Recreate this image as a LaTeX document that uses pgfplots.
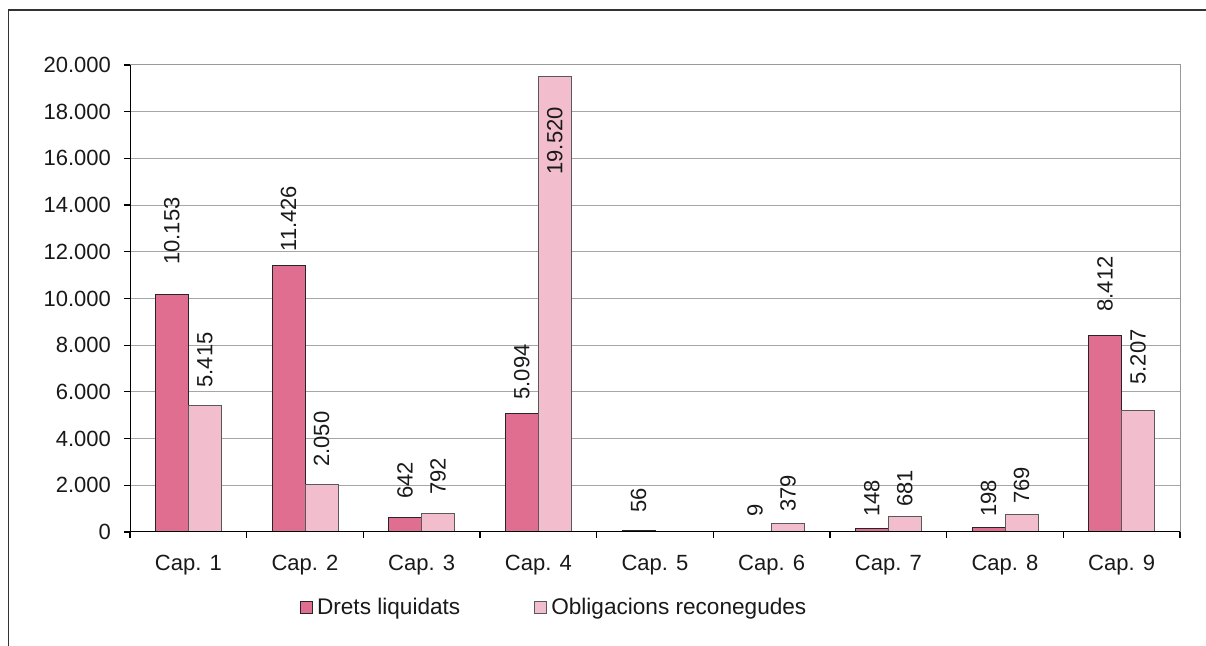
\documentclass[border=0pt]{standalone}
\usepackage{fontspec}
\setmainfont{Liberation Sans}
\usepackage{pgfplots}
\pgfplotsset{compat=1.18}
\definecolor{darkpink}{RGB}{224,110,144}
\definecolor{lightpink}{RGB}{242,190,205}
\begin{document}
\begin{tikzpicture}[font=\fontsize{11}{13}\selectfont]
\useasboundingbox (0,0) rectangle (603pt,323pt);
\draw[line width=0.7pt, black!80] (4.15pt,-2pt) -- (4.15pt,318pt) -- (606pt,318pt);
\begin{axis}[
  at={(65pt,57pt)}, anchor=south west,
  scale only axis, width=525pt, height=233.5pt,
  xmin=-0.5, xmax=8.5, ymin=0, ymax=20000,
  ybar=0pt, bar width=16.5pt,
  xtick={0,...,8},
  xticklabels={Cap. 1,Cap. 2,Cap. 3,Cap. 4,Cap. 5,Cap. 6,Cap. 7,Cap. 8,Cap. 9},
  minor xtick={-0.5,0.5,1.5,2.5,3.5,4.5,5.5,6.5,7.5,8.5},
  ytick={0,2000,...,20000},
  ymajorgrids, grid style={black!35, line width=0.5pt},
  tick align=outside, tick pos=left,
  major tick length=3pt, minor tick length=3pt,
  major x tick style={draw=none},
  tick style={black, line width=0.6pt},
  axis line style={black!40, line width=0.5pt},
  scaled y ticks=false,
  /pgf/number format/1000 sep={.},
  /pgf/number format/assume math mode=true,
  xticklabel style={yshift=-5pt, text=black!90},
  yticklabel style={xshift=-3pt, text=black!90},
  legend style={at={(rel axis cs:0.1616,-0.1627)}, anchor=west, draw=none,
    legend columns=2, inner sep=0pt,
    /tikz/every even column/.append style={column sep=35pt},
    font=\fontsize{11.3}{13}\selectfont, text=black!90},
  legend image code/.code={\draw[#1] (0pt,-3pt) rectangle (6pt,3pt);},
]
\addplot[fill=darkpink, draw=black!85, line width=0.5pt] coordinates {(0,10153) (1,11426) (2,642) (3,5094) (4,56) (5,9) (6,148) (7,198) (8,8412)};
\addplot[fill=lightpink, draw=black!65, line width=0.5pt] coordinates {(0,5415) (1,2050) (2,792) (3,19520) (4,0) (5,379) (6,681) (7,769) (8,5207)};
\legend{Drets liquidats, Obligacions reconegudes}
\draw[black, line width=0.6pt] (rel axis cs:0,1) -- (rel axis cs:0,0) -- (rel axis cs:1,0);
\begin{scope}[every node/.style={rotate=90, anchor=west, inner sep=0pt, text=black!90}]
\node at (axis cs:-0.1414,11435) {10.153};
\node at (axis cs:0.1414,6168) {5.415};
\node at (axis cs:0.8586,11992) {11.426};
\node at (axis cs:1.1414,2784) {2.050};
\node at (axis cs:1.8586,1413) {642};
\node at (axis cs:2.1414,1585) {792};
\node at (axis cs:2.8586,5654) {5.094};
\node at (axis cs:3.1414,15290) {19.520};
\node at (axis cs:3.8586,814) {56};
\node at (axis cs:4.8586,642) {9};
\node at (axis cs:5.1414,857) {379};
\node at (axis cs:5.8586,642) {148};
\node at (axis cs:6.1414,1071) {681};
\node at (axis cs:6.8586,642) {198};
\node at (axis cs:7.1414,1199) {769};
\node at (axis cs:7.8586,9423) {8.412};
\node at (axis cs:8.1414,6296) {5.207};
\end{scope}
\end{axis}
\end{tikzpicture}
\end{document}
